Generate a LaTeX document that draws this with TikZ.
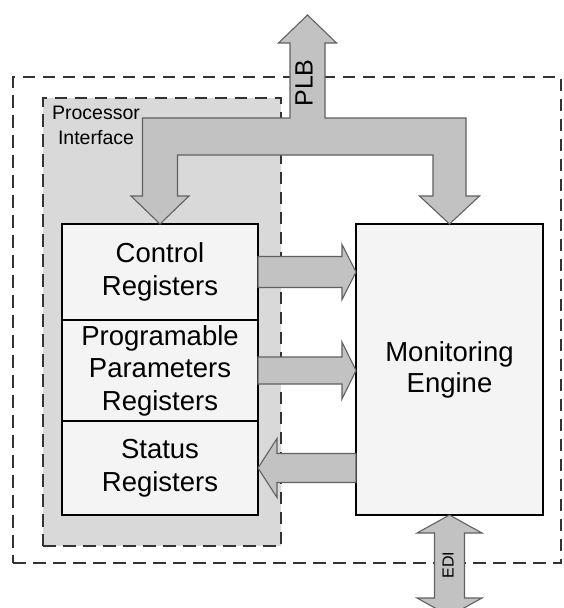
\documentclass[tikz,border=0pt]{standalone}
\usepackage{fontspec}
\setmainfont{Liberation Sans}
\usetikzlibrary{calc}

\definecolor{regionfill}{gray}{0.85}
\definecolor{arrowfill}{gray}{0.76}
\definecolor{arrowline}{gray}{0.38}
\definecolor{boxfill}{gray}{0.955}
\definecolor{dashline}{gray}{0.2}

\tikzset{
  boundary/.style={draw=dashline, line width=1.7pt, dash pattern=on 12.5pt off 7.5pt,
    inner sep=0pt, outer sep=0pt},
  regbox/.style={draw=black, line width=1.3pt, fill=boxfill, inner sep=0pt, outer sep=0pt,
    align=center, font=\fontsize{27.5}{32.5}\selectfont},
  blockarrow/.style={draw=arrowline, line width=1.1pt, fill=arrowfill, line join=miter},
  buslabel/.style={rotate=90, inner sep=0pt}
}

% horizontal block arrow: from #1 to tip at #2 (same height as #1),
% shaft half-height #3, head half-height #4, signed head length #5
\newcommand{\hblockarrow}[5]{%
  \draw[blockarrow] let \p1=(#1), \p2=(#2) in
    ({\x1},{\y1+#3}) -- ({\x2-(#5)},{\y1+#3}) -- ({\x2-(#5)},{\y1+#4}) -- ({\x2},{\y1})
    -- ({\x2-(#5)},{\y1-#4}) -- ({\x2-(#5)},{\y1-#3}) -- ({\x1},{\y1-#3}) -- cycle;}

\begin{document}
\begin{tikzpicture}[x=1pt, y=-1pt]
\useasboundingbox (0,0) rectangle (563,608);

% system boundary and processor interface region
\node[boundary, minimum width=548pt, minimum height=486pt] (sys) at (287,320) {};
\node[boundary, fill=regionfill, minimum width=238pt, minimum height=448pt] (pif) at (162,322) {};
\node[align=center, inner sep=0pt, font=\fontsize{19.5}{25}\selectfont] (piflabel) at (96,125)
  {Processor\\Interface};

% register blocks
\node[regbox, minimum width=196pt, minimum height=96pt] (ctrl) at (160,272) {Control\\Registers};
\node[regbox, minimum width=196pt, minimum height=101pt] (prog) at (160,370.5)
  {Programable\\Parameters\\Registers};
\node[regbox, minimum width=196pt, minimum height=94pt] (stat) at (160,468) {Status\\Registers};

% monitoring engine
\node[regbox, font=\fontsize{27.5}{31}\selectfont, minimum width=187pt, minimum height=291pt]
  (eng) at (449.5,369.5) {Monitoring\\Engine};

% PLB bus feeding both blocks
\coordinate (plbtip) at (307.5,15);
\coordinate (bar) at (0,118);
\draw[blockarrow] let \p1=(plbtip), \p2=(ctrl.north), \p3=(eng.north), \p4=(bar) in
  (\x1,\y1) -- ({\x1+29pt},{\y1-28pt}) -- ({\x1+17.5pt},{\y1-28pt}) -- ({\x1+17.5pt},\y4)
  -- ({\x3+16.5pt},\y4) -- ({\x3+16.5pt},{\y3+28pt}) -- ({\x3+30pt},{\y3+28pt}) -- (\x3,\y3)
  -- ({\x3-30pt},{\y3+28pt}) -- ({\x3-16.5pt},{\y3+28pt}) -- ({\x3-16.5pt},{\y4-37pt})
  -- ({\x2+17.5pt},{\y4-37pt}) -- ({\x2+17.5pt},{\y2+28pt}) -- ({\x2+29pt},{\y2+28pt}) -- (\x2,\y2)
  -- ({\x2-29pt},{\y2+28pt}) -- ({\x2-17.5pt},{\y2+28pt}) -- ({\x2-17.5pt},\y4)
  -- ({\x1-17.5pt},\y4) -- ({\x1-17.5pt},{\y1-28pt}) -- ({\x1-29pt},{\y1-28pt}) -- cycle;
\node[buslabel, font=\fontsize{25}{25}\selectfont] (plb) at (304,83) {PLB};

% register / engine data paths
\hblockarrow{ctrl.east}{eng.west}{15.5pt}{27.5pt}{14pt}
\hblockarrow{prog.east}{eng.west}{13.5pt}{28.5pt}{14pt}
\hblockarrow{eng.west |- stat.east}{stat.east}{14.5pt}{29.5pt}{-19pt}

% EDI port
\coordinate (editip) at (449.5,616);
\draw[blockarrow] let \p1=(eng.south), \p2=(editip) in
  (\x1,\y1) -- ({\x1+32.5pt},{\y1-18pt}) -- ({\x1+15pt},{\y1-18pt}) -- ({\x1+15pt},{\y2+18pt})
  -- ({\x1+32.5pt},{\y2+18pt}) -- (\x2,\y2) -- ({\x1-32.5pt},{\y2+18pt}) -- ({\x1-15pt},{\y2+18pt})
  -- ({\x1-15pt},{\y1-18pt}) -- ({\x1-32.5pt},{\y1-18pt}) -- cycle;
\node[buslabel, font=\fontsize{16}{16}\selectfont] (edi) at (448,565) {EDI};
\end{tikzpicture}
\end{document}
